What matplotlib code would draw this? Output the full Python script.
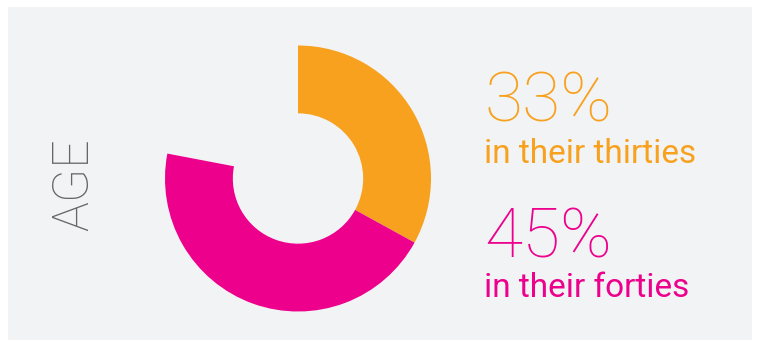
import matplotlib
matplotlib.use('Agg')
import matplotlib.pyplot as plt
from matplotlib.patches import Rectangle

# data
labels = ['in their thirties', 'in their forties', '']
shares = [33, 45, 22]
colors = ['#F7A11E', '#EC008C', 'none']

W, H = 760, 347
bg = '#F2F3F5'
font = 'Roboto'


def fx(px):
    return px / W


def fy(py):
    # py measured from the top of the image
    return 1 - py / H


fig = plt.figure(figsize=(W / 100, H / 100), dpi=100)
fig.patch.set_facecolor('white')

# grey panel
fig.patches.append(Rectangle((fx(8), fy(340)), fx(752) - fx(8), fy(7) - fy(340),
                             transform=fig.transFigure, facecolor=bg,
                             edgecolor='none', zorder=-5))

# donut
cx, cy, r = 298, 178.5, 133
ax = fig.add_axes([fx(cx - r), fy(cy + r), 2 * r / W, 2 * r / H], zorder=2)
ax.pie(shares, colors=colors, startangle=90, counterclock=False, radius=1,
       wedgeprops=dict(width=0.51, edgecolor='none'))
ax.set_xlim(-1, 1)
ax.set_ylim(-1, 1)
ax.set_aspect('equal')
ax.axis('off')

# side title
fig.text(fx(74), fy(185), 'AGE', rotation=90, ha='center', va='center',
         fontsize=36, color='#666666', family=font, fontweight='light')

# callouts
tx = fx(484)
fig.text(tx, fy(122), '%d%%' % shares[0], color=colors[0], fontsize=50,
         family=font, fontweight='light', va='baseline', ha='left')
fig.text(tx, fy(163), labels[0], color=colors[0], fontsize=24,
         family=font, va='baseline', ha='left')
fig.text(tx, fy(257), '%d%%' % shares[1], color=colors[1], fontsize=50,
         family=font, fontweight='light', va='baseline', ha='left')
fig.text(tx, fy(297), labels[1], color=colors[1], fontsize=24,
         family=font, va='baseline', ha='left')

fig.savefig('out.png', dpi=100, facecolor=fig.get_facecolor())
